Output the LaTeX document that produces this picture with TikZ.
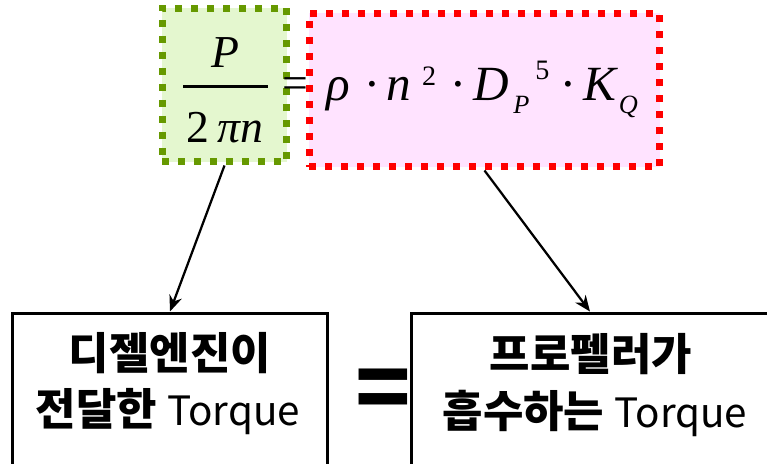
\documentclass[tikz,border=0pt]{standalone}
\usepackage{fontspec}
\setmainfont{Liberation Serif}
\newfontfamily\korfont{Noto Sans CJK KR}
\usetikzlibrary{arrows.meta}
\definecolor{leafgreen}{HTML}{669900}
\definecolor{leaffill}{HTML}{E4F7CF}
\definecolor{pinkfill}{HTML}{FFE3FF}
\newcommand\eqpart[2]{\makebox[#1][l]{#2}}
\begin{document}
\begin{tikzpicture}[x=0.02cm,y=-0.02cm,
  dotbox/.style={line width=0.14cm,dash pattern=on 0.14cm off 0.18cm,inner sep=0pt},
  plainbox/.style={draw,line width=0.06cm,minimum height=3.6cm,inner sep=0pt},
  arr/.style={line width=0.045cm,-{Stealth[length=0.32cm,width=0.26cm]}},
  kor/.style={font=\korfont\fontsize{25}{30}\selectfont,inner sep=0pt},
  mth/.style={font=\fontsize{26}{30}\selectfont,inner sep=0pt}]
  \clip (0,0) rectangle (767,463);
  % equation boxes
  \node[dotbox,draw=leafgreen,fill=leaffill,minimum width=2.5cm,minimum height=3.08cm] (power) at (224.5,85) {};
  \node[dotbox,draw=red,fill=pinkfill,minimum width=7.02cm,minimum height=3.08cm] (torq) at (484.5,90) {};
  \node[mth,anchor=base] (num) at (225,67) {\itshape P};
  \node[mth,anchor=base] (den) at (225,142) {2\,\itshape πn};
  \draw[line width=0.06cm] (183,86) -- (268,86);
  \node[mth] (eq) at (295,88) {=};
  \node[mth,font=\fontsize{28}{32}\selectfont,anchor=base west] (rhs) at (326,100) {\itshape
    \eqpart{22.5pt}{ρ}\eqpart{11.5pt}{·}\eqpart{20.5pt}{n}%
    \eqpart{16.5pt}{\raisebox{8.5pt}{\fontsize{16}{18}\selectfont\upshape 2}}%
    \eqpart{12.5pt}{·}\eqpart{23pt}{D}%
    \eqpart{12.5pt}{\raisebox{-7.4pt}{\fontsize{15}{17}\selectfont P}}%
    \eqpart{15pt}{\raisebox{11.4pt}{\fontsize{16}{18}\selectfont\upshape 5}}%
    \eqpart{12.5pt}{·}\eqpart{20pt}{K}%
    \raisebox{-7.4pt}{\fontsize{15}{17}\selectfont Q}};
  % torque boxes
  \node[plainbox,minimum width=6.32cm] (engine) at (170,403) {};
  \node[plainbox,minimum width=7.16cm] (prop) at (590,403) {};
  \node[kor] (engtop) at (170,353) {\bfseries 디젤엔진이};
  \node[kor] (engbot) at (168,412) {\bfseries 전달한 {\mdseries\fontsize{23}{28}\selectfont Torque}};
  \node[kor] (proptop) at (591,354) {\bfseries 프로펠러가};
  \node[kor] (propbot) at (595,413) {\bfseries 흡수하는 {\mdseries\fontsize{23}{28}\selectfont Torque}};
  \node[font=\korfont\bfseries\fontsize{52}{56}\selectfont,inner sep=0pt] (same) at (383,395) {=};
  \draw[arr] (power.south) -- (engine.north);
  \draw[arr] (torq.south) -- (prop.north);
\end{tikzpicture}
\end{document}
